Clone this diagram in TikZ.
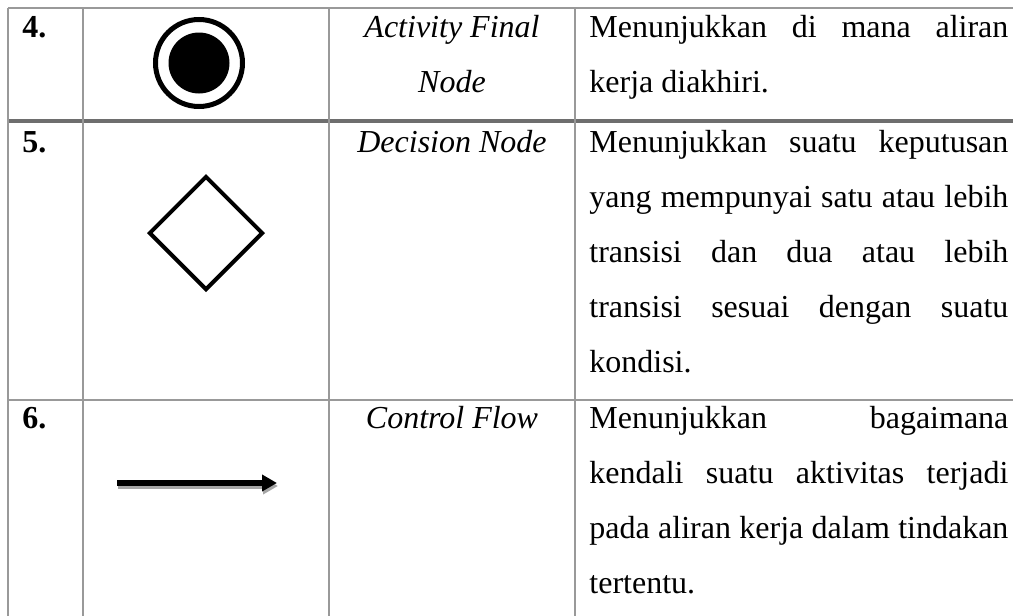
\documentclass[tikz,border=0pt]{standalone}
\usepackage{fontspec}
\setmainfont{Liberation Serif}
\usepackage{tikz}
\usetikzlibrary{arrows.meta,shapes.geometric}
\newcommand{\jline}[1]{\makebox[209.5pt][s]{#1}}
\tikzset{
  rule/.style     = {draw=black!40, line width=1pt},
  rulethick/.style= {draw=black!57, line width=2pt},
  txt/.style      = {inner sep=0pt, anchor=base west, font=\fontsize{16}{19}\selectfont},
  num/.style      = {txt, font=\fontsize{16}{19}\selectfont\bfseries},
  term/.style     = {inner sep=0pt, anchor=base, font=\fontsize{16}{19}\selectfont\itshape},
  endring/.style  = {circle, draw, line width=2.5pt, minimum size=43.5pt, inner sep=0pt},
  enddot/.style   = {circle, fill=black, minimum size=30.5pt, inner sep=0pt},
  decide/.style   = {diamond, draw, line width=2pt, minimum size=57pt, inner sep=0pt},
  flow/.style     = {-{Triangle[length=7.5pt,width=8pt]}, line width=3pt},
  ghost/.style    = {flow, draw=black!35, fill=black!35},
}
\begin{document}
\begin{tikzpicture}[x=0.5pt,y=-0.5pt]
  \useasboundingbox (0,0) rectangle (1013,616);
  % grid of the table
  \draw[rule] (8,8) -- (1013,8);
  \draw[rule] (8,400) -- (1013,400);
  \draw[rulethick] (8,121) -- (1013,121);
  \draw[rule] (8,8) -- (8,616);
  \draw[rule] (83,8) -- (83,616);
  \draw[rule] (329,8) -- (329,616);
  \draw[rule] (575,8) -- (575,616);
  % row 4
  \node[num] (n4) at (22,37) {4.};
  \node[endring] (fin) at (199,63) {};
  \node[enddot] (fincore) at (fin.center) {};
  \node[term] (t4a) at (452,37) {Activity Final};
  \node[term] (t4b) at (452,92) {Node};
  \node[txt] (d4a) at (589,37) {\jline{Menunjukkan di mana aliran}};
  \node[txt] (d4b) at (589,92) {kerja diakhiri.};
  % row 5
  \node[num] (n5) at (22,152) {5.};
  \node[decide] (dec) at (206,233) {};
  \node[term] (t5) at (452,152) {Decision Node};
  \node[txt] (d5a) at (589,152) {\jline{Menunjukkan suatu keputusan}};
  \node[txt] (d5b) at (589,207) {\jline{yang mempunyai satu atau lebih}};
  \node[txt] (d5c) at (589,262) {\jline{transisi dan dua atau lebih}};
  \node[txt] (d5d) at (589,317) {\jline{transisi sesuai dengan suatu}};
  \node[txt] (d5e) at (589,372) {kondisi.};
  % row 6
  \node[num] (n6) at (22,428) {6.};
  \coordinate (cfa) at (117,483);
  \coordinate (cfb) at (277,483);
  \draw[ghost] ([shift={(1,3)}]cfa) -- ([shift={(1,3)}]cfb);
  \draw[flow] (cfa) -- (cfb);
  \node[term] (t6) at (452,428) {Control Flow};
  \node[txt] (d6a) at (589,428) {\jline{Menunjukkan bagaimana}};
  \node[txt] (d6b) at (589,483) {\jline{kendali suatu aktivitas terjadi}};
  \node[txt] (d6c) at (589,538) {\jline{pada aliran kerja dalam tindakan}};
  \node[txt] (d6d) at (589,593) {tertentu.};
\end{tikzpicture}
\end{document}
